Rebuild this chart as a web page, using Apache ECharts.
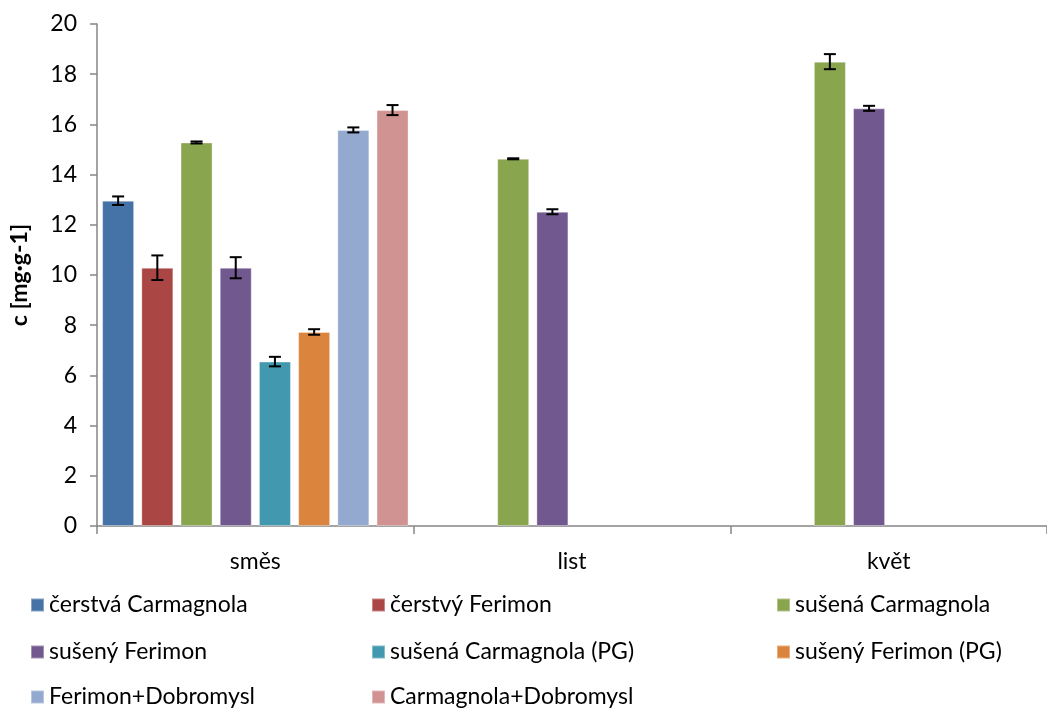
<!DOCTYPE html>
<html>
<head>
<meta charset="utf-8">
<script src="https://cdn.jsdelivr.net/npm/echarts@6/dist/echarts.min.js"></script>
<style>
  html, body { margin: 0; padding: 0; background: #fff; }
  #chart { width: 1047px; height: 708px; }
</style>
</head>
<body>
<div id="chart"></div>
<script>
// Plant parts
const categories = ['směs', 'list', 'květ'];

// Series names (sample types)
const seriesNames = [
  'čerstvá Carmagnola',
  'čerstvý Ferimon',
  'sušená Carmagnola',
  'sušený Ferimon',
  'sušená Carmagnola (PG)',
  'sušený Ferimon (PG)',
  'Ferimon+Dobromysl',
  'Carmagnola+Dobromysl'
];

const seriesColors = ['#4572A7', '#AA4643', '#89A54E', '#71588F', '#4198AF', '#DB843D', '#93A9CF', '#D19392'];

// Mean concentrations [mg·g-1] per category (směs, list, květ)
const cerstvaCarmagnola   = [12.96, null, null];
const cerstvyFerimon      = [10.29, null, null];
const susenaCarmagnola    = [15.28, 14.63, 18.50];
const susenyFerimon       = [10.29, 12.52, 16.64];
const susenaCarmagnolaPG  = [6.55, null, null];
const susenyFerimonPG     = [7.73, null, null];
const ferimonDobromysl    = [15.78, null, null];
const carmagnolaDobromysl = [16.57, null, null];

// Standard deviations
const errCerstvaCarmagnola   = [0.17, null, null];
const errCerstvyFerimon      = [0.49, null, null];
const errSusenaCarmagnola    = [0.04, 0.02, 0.30];
const errSusenyFerimon       = [0.42, 0.10, 0.10];
const errSusenaCarmagnolaPG  = [0.19, null, null];
const errSusenyFerimonPG     = [0.11, null, null];
const errFerimonDobromysl    = [0.10, null, null];
const errCarmagnolaDobromysl = [0.20, null, null];

// Y axis range
const yMin = 0, yMax = 20, yStep = 2;

const values = [cerstvaCarmagnola, cerstvyFerimon, susenaCarmagnola, susenyFerimon,
                susenaCarmagnolaPG, susenyFerimonPG, ferimonDobromysl, carmagnolaDobromysl];
const errors = [errCerstvaCarmagnola, errCerstvyFerimon, errSusenaCarmagnola, errSusenyFerimon,
                errSusenaCarmagnolaPG, errSusenyFerimonPG, errFerimonDobromysl, errCarmagnolaDobromysl];

const FONT = 'Lato, "Open Sans", sans-serif';
const FS = 23;
const BAR_W = 32;
const BAR_GAP = 7.2;
const nSeries = seriesNames.length;

const barSeries = seriesNames.map((name, i) => ({
  name: name,
  type: 'bar',
  data: values[i],
  barWidth: BAR_W,
  barGap: (BAR_GAP / BAR_W * 100) + '%',
  itemStyle: { color: seriesColors[i], borderColor: 'rgba(255,255,255,0.35)', borderWidth: 1 },
  emphasis: { disabled: true }
}));

// Error bars drawn on top of each bar
const errorSeries = seriesNames.map((name, i) => ({
  type: 'custom',
  name: name + ' err',
  z: 10,
  silent: true,
  data: values[i].map((v, k) => v == null ? null : [k, v - errors[i][k], v + errors[i][k]]).filter(d => d),
  renderItem: function (params, api) {
    const lo = api.coord([api.value(0), api.value(1)]);
    const hi = api.coord([api.value(0), api.value(2)]);
    const offset = (i - (nSeries - 1) / 2) * (BAR_W + BAR_GAP);
    const x = lo[0] + offset;
    const cap = 6;
    const style = { stroke: '#000', lineWidth: 2 };
    return {
      type: 'group',
      children: [
        { type: 'line', shape: { x1: x, y1: lo[1], x2: x, y2: hi[1] }, style: style },
        { type: 'line', shape: { x1: x - cap, y1: lo[1], x2: x + cap, y2: lo[1] }, style: style },
        { type: 'line', shape: { x1: x - cap, y1: hi[1], x2: x + cap, y2: hi[1] }, style: style }
      ]
    };
  }
}));

// Legend laid out as a 3-column grid, one legend entry per cell
const legendCols = [30, 371, 776];
const legendRows = [605, 652, 697];
const legends = seriesNames.map((name, i) => ({
  left: legendCols[i % 3],
  top: legendRows[Math.floor(i / 3)] - FS / 2,
  padding: 0,
  itemWidth: 13,
  itemHeight: 13,
  icon: 'rect',
  textStyle: { fontFamily: FONT, fontSize: FS, color: '#000' },
  selectedMode: false,
  data: [name]
}));

const chart = echarts.init(document.getElementById('chart'), null, { renderer: 'canvas' });
chart.setOption({
  animation: false,
  backgroundColor: '#fff',
  grid: { left: 96, top: 24, width: 963, height: 502, containLabel: false },
  xAxis: {
    type: 'category',
    data: categories,
    axisLine: { lineStyle: { color: '#868686', width: 1.5 } },
    axisTick: { show: true, length: 8, lineStyle: { color: '#868686', width: 1.5 } },
    axisLabel: { fontFamily: FONT, fontSize: FS, color: '#000', margin: 24 }
  },
  yAxis: {
    type: 'value',
    min: yMin, max: yMax, interval: yStep,
    name: 'c [mg·g-1]',
    nameLocation: 'middle',
    nameGap: 66,
    nameRotate: 90,
    nameTextStyle: { fontFamily: FONT, fontSize: FS, fontWeight: 'bold', color: '#000' },
    axisLine: { show: true, lineStyle: { color: '#868686', width: 1.5 } },
    axisTick: { show: true, length: 7, lineStyle: { color: '#868686', width: 1.5 } },
    axisLabel: { fontFamily: FONT, fontSize: FS, color: '#000', margin: 20 },
    splitLine: { show: false }
  },
  legend: legends,
  series: barSeries.concat(errorSeries)
});
</script>
</body>
</html>
